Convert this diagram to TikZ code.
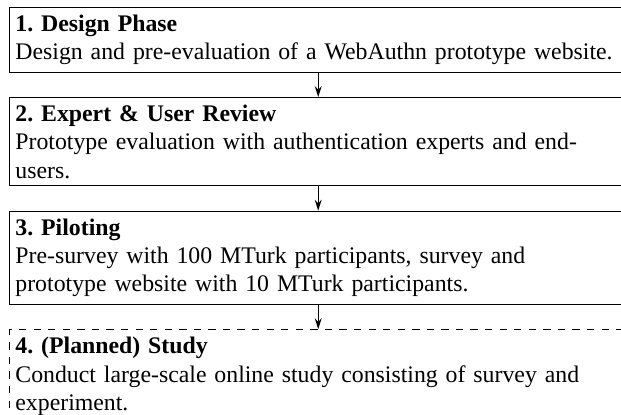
\documentclass[tikz,border=0pt]{standalone}
\usepackage{fontspec}
\setmainfont{Liberation Serif}
\usetikzlibrary{arrows.meta,positioning}
\begin{document}
\frenchspacing
\begin{tikzpicture}[x=0.412pt,y=-0.412pt,
  stagebox/.style={draw, line width=0.5pt, anchor=north west, align=left,
    text width=249.5pt, inner xsep=2.4pt, inner ysep=3pt,
    font=\fontsize{9.8}{11.7}\selectfont},
  flow/.style={-{Stealth[length=4.5pt,width=2.8pt]}, line width=0.5pt}]
\useasboundingbox (0,0) rectangle (621,415);
\node[stagebox] (b1) at (9,7)
  {\textbf{1. Design Phase}\\Design and pre-evaluation of a WebAuthn prototype website.};
\node[stagebox, below=10pt of b1] (b2)
  {\textbf{2. Expert \& User Review}\\Prototype evaluation with authentication experts and end-\\users.};
\node[stagebox, below=10pt of b2] (b3)
  {\textbf{3. Piloting}\\Pre-survey with 100 MTurk participants, survey and\\prototype website with 10 MTurk participants.};
\node[stagebox, dashed, below=10pt of b3] (b4)
  {\textbf{4. (Planned) Study}\\Conduct large-scale online study consisting of survey and\\experiment.};
\draw[flow] (b1.south) -- (b2.north);
\draw[flow] (b2.south) -- (b3.north);
\draw[flow] (b3.south) -- (b4.north);
\end{tikzpicture}
\end{document}
